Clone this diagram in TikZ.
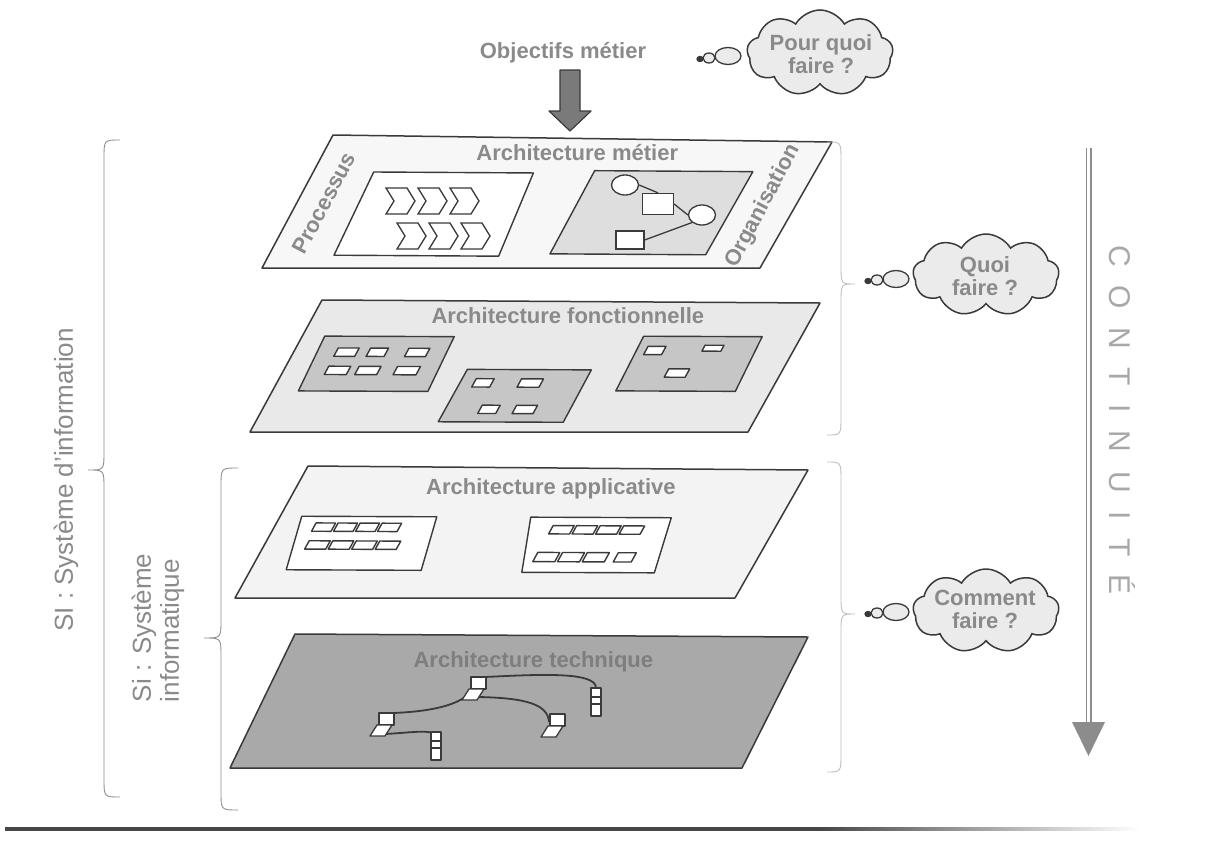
\documentclass[tikz,border=0pt]{standalone}
\usepackage{fontspec}
\setmainfont{Liberation Sans}
\usetikzlibrary{shapes.symbols,shapes.geometric}
\definecolor{ink}{HTML}{3A3A3A}
\definecolor{txt}{HTML}{8A8A8A}
\definecolor{fillA}{HTML}{F7F7F7}
\definecolor{fillAi}{HTML}{DEDEDE}
\definecolor{fillB}{HTML}{E9E9E9}
\definecolor{fillBi}{HTML}{C6C6C6}
\definecolor{fillC}{HTML}{F3F3F3}
\definecolor{fillD}{HTML}{A9A9A9}
\definecolor{txtD}{HTML}{7E7E7E}
\definecolor{cloudfill}{HTML}{EBEBEB}
\definecolor{bracec}{HTML}{8E8E8E}
\definecolor{bracelt}{HTML}{BEBEBE}
\definecolor{contc}{HTML}{8C8C8C}
\definecolor{contt}{HTML}{A8A8A8}
\newcommand\smallbox[4]{\draw[smallbox] (#1,#2) -- ++(#3,0) -- ++(0,#4) -- ++(-#3,0) -- cycle;}
\newcommand\chevshape[2]{\draw[chev] (#1,#2) -- ++(21,0) -- ++(8,13) -- ++(-8,13) -- ++(-21,0) -- ++(8,-13) -- cycle;}
\newcommand\bracepath[7]{\draw[#1] (#2,#5) .. controls (#3,#5) .. (#3,#5+18) -- (#3,#6-18) .. controls (#3,#6) .. (#4,#6) .. controls (#3,#6) .. (#3,#6+18) -- (#3,#7-18) .. controls (#3,#7) .. (#2,#7);}
\newcommand\lapdev[2]{\draw[dev] (#1,#2-12) rectangle (#1+15,#2);
  \draw[dev] (#1-2,#2) -- (#1+13,#2) -- (#1+6,#2+11) -- (#1-9,#2+11) -- cycle;}
\newcommand\towdev[2]{\draw[dev] (#1-5,#2-14) rectangle (#1+5,#2+14);
  \draw[ink, line width=1.2pt] (#1-5,#2-5) -- (#1+5,#2-5) (#1-5,#2+2) -- (#1+5,#2+2);}
\newcommand\gapk{\kern18.5pt}
\begin{document}
\begin{tikzpicture}[x=1pt,y=-1pt,
  ttl/.style={font=\fontsize{22}{24}\selectfont\bfseries, text=txt, inner sep=0pt},
  lbl/.style={font=\fontsize{26}{28}\selectfont, text=txt, inner sep=0pt},
  layer/.style={draw=ink, line width=1.5pt, line join=round},
  inbox/.style={draw=ink, line width=1.4pt, line join=round},
  smallbox/.style={draw=ink, line width=1.4pt, fill=white, line join=round},
  chev/.style={draw=ink, line width=1.3pt, fill=white, line join=miter},
  orgc/.style={ellipse, draw=ink, line width=1.3pt, fill=white, minimum width=27pt, minimum height=20pt, inner sep=0pt},
  orgs/.style={rectangle, draw=ink, line width=1.3pt, fill=white, minimum width=31pt, minimum height=21pt, inner sep=0pt},
  link/.style={draw=ink, line width=1.3pt},
  dev/.style={draw=ink, line width=1.3pt, fill=white, line join=round},
  net/.style={draw=ink, line width=1.8pt},
  cloudsty/.style={cloud, cloud puffs=9, cloud puff arc=120, cloud ignores aspect, draw=ink, fill=cloudfill, line width=1.5pt, minimum width=146pt, minimum height=86pt, inner sep=0pt},
  cloudtxt/.style={font=\fontsize{22}{23}\selectfont\bfseries, text=txt, align=center, inner sep=0pt},
  bub/.style={ellipse, draw=ink, fill=cloudfill, line width=1.3pt, inner sep=0pt},
  bracesty/.style={draw=bracec, line width=0.9pt},
  bracelite/.style={draw=bracelt, line width=0.9pt},
  cont/.style={font=\fontsize{30}{32}\selectfont, text=contt, inner sep=0pt}
]
\useasboundingbox (0,0) rectangle (1212,843);

% ---- top: objectives and arrow
\node[ttl] (obj) at (563,53) {Objectifs métier};
\draw[draw=ink, fill=black!52, line width=1.2pt, line join=round] (560,70) -- (580,70) -- (580,111) -- (591,111) -- (570,131) -- (549,111) -- (560,111) -- cycle;

% ---- cloud 1
\node[cloudsty] (cl1) at (820,53) {};
\node[cloudtxt] (cl1t) at (821,54) {Pour quoi\\faire ?};
\node[bub, minimum width=26pt, minimum height=17pt] (p2) at (728,56) {};
\node[bub, minimum width=12pt, minimum height=10pt] (p1) at (709,58) {};
\node[bub, minimum width=6pt, minimum height=5pt, fill=ink] (p0) at (700,59) {};

% ---- layer 1
\draw[layer, fill=fillA] (333,135) -- (832,142) -- (760,268) -- (262,268) -- cycle;
\begin{scope}[shift={(333,136)}, x={(499pt,-3pt)}, y={(-71pt,-132pt)}]
  \draw[inbox, fill=white] (0.12,0.27) -- (0.44,0.27) -- (0.46,0.9) -- (0.13,0.9) -- cycle;
  \draw[inbox, fill=fillAi] (0.56,0.25) -- (0.877,0.25) -- (0.872,0.88) -- (0.56,0.88) -- cycle;
  \node[ttl] (t1) at (0.506,0.116) {Architecture métier};
\end{scope}
\node[ttl, rotate=62] (proc) at (324,203) {Processus};
\node[ttl, rotate=62] (orga) at (763,206) {Organisation};
\chevshape{386}{188}\chevshape{418}{188}\chevshape{450}{188}
\chevshape{397}{223}\chevshape{429}{223}\chevshape{461}{223}
\node[orgc] (o1) at (625,185) {};
\node[orgs] (s1) at (658,204) {};
\node[orgc] (o2) at (702,215) {};
\node[orgs, minimum width=28pt, minimum height=18pt] (s2) at (630,240) {};
\draw[link] (o1.east) -- (s1.north);
\draw[link] (s1.east) -- (o2.west);
\draw[link] (o2.south west) -- (s2.east);

% ---- layer 2
\draw[layer, fill=fillB] (322,300) -- (820,303) -- (748,432) -- (250,432) -- cycle;
\begin{scope}[shift={(322,300)}, x={(498pt,-2pt)}, y={(-72pt,-132pt)}]
  \node[ttl] (t2) at (0.51,0.113) {Architecture fonctionnelle};
  \draw[inbox, fill=fillBi] (0.045,0.273) -- (0.305,0.273) -- (0.312,0.688) -- (0.052,0.688) -- cycle;
  \draw[inbox, fill=fillBi] (0.367,0.52) -- (0.616,0.52) -- (0.617,0.917) -- (0.366,0.917) -- cycle;
  \draw[inbox, fill=fillBi] (0.684,0.264) -- (0.922,0.264) -- (0.928,0.678) -- (0.688,0.678) -- cycle;
  \smallbox{0.085}{0.362}{0.042}{0.063}\smallbox{0.150}{0.362}{0.036}{0.063}\smallbox{0.227}{0.362}{0.042}{0.063}
  \smallbox{0.086}{0.5}{0.044}{0.063}\smallbox{0.147}{0.5}{0.044}{0.063}\smallbox{0.224}{0.5}{0.046}{0.063}
  \smallbox{0.395}{0.59}{0.036}{0.063}\smallbox{0.486}{0.59}{0.044}{0.063}
  \smallbox{0.436}{0.79}{0.036}{0.063}\smallbox{0.505}{0.79}{0.042}{0.063}
  \smallbox{0.704}{0.34}{0.036}{0.063}\smallbox{0.817}{0.33}{0.038}{0.045}\smallbox{0.77}{0.51}{0.042}{0.063}
\end{scope}

% ---- layer 3
\draw[layer, fill=fillC] (308,466) -- (808,470) -- (735,598) -- (235,598) -- cycle;
\begin{scope}[shift={(308,466)}, x={(500pt,-2pt)}, y={(-73pt,-132pt)}]
  \node[ttl] (t3) at (0.51,0.165) {Architecture applicative};
  \draw[inbox, fill=white] (0.043,0.38) -- (0.313,0.38) -- (0.341,0.785) -- (0.071,0.785) -- cycle;
  \draw[inbox, fill=white] (0.501,0.38) -- (0.782,0.38) -- (0.809,0.797) -- (0.544,0.797) -- cycle;
  \foreach \k in {0,1,2,3} {
    \smallbox{0.079+0.044*\k}{0.43}{0.039}{0.063}
    \smallbox{0.085+0.047*\k}{0.565}{0.042}{0.063}
    \smallbox{0.555+0.047*\k}{0.443}{0.042}{0.063}
  }
  \foreach \k in {0,1,2} {\smallbox{0.554+0.0495*\k}{0.646}{0.044}{0.07}}
  \smallbox{0.715}{0.646}{0.036}{0.07}
\end{scope}

% ---- layer 4
\draw[layer, fill=fillD] (295,634) -- (808,637) -- (742,768) -- (230,768) -- cycle;
\begin{scope}[shift={(295,634)}, x={(513pt,-2pt)}, y={(-65pt,-134pt)}]
  \node[ttl, text=txtD] (t4) at (0.49,0.2) {Architecture technique};
\end{scope}
\coordinate (A-t) at (485,677);
\coordinate (A-l) at (465,697);
\coordinate (A-r) at (479,697);
\coordinate (B-t) at (596,688);
\coordinate (C-t) at (393,713);
\coordinate (C-r) at (385,734);
\coordinate (D-t) at (432,733);
\coordinate (E-l) at (549,722);
\draw[net] (A-t) .. controls (545,674) and (596,672) .. (B-t);
\draw[net] (A-l) .. controls (450,708) and (420,712) .. (C-t);
\draw[net] (A-r) .. controls (525,698) and (548,704) .. (E-l);
\draw[net] (C-r) .. controls (405,733) and (426,730) .. (D-t);
\lapdev{471}{689}
\lapdev{379}{725}
\lapdev{550}{726}
\towdev{596}{702}
\towdev{436}{746}

% ---- left braces and labels
\bracepath{bracesty}{120}{104}{88}{140}{470}{797}
\bracepath{bracesty}{238}{221}{204}{468}{638}{810}
\node[lbl, rotate=90] (si1) at (66,480) {SI : Système d’information};
\node[lbl, rotate=90, align=left] (si2) at (158,628) {Si : Système\\informatique};

% ---- right braces and clouds
\bracepath{bracelite}{827}{841}{855}{142}{284}{435}
\bracepath{bracelite}{827}{841}{855}{462}{614}{772}
\node[cloudsty, minimum height=82pt] (cl2) at (986,275) {};
\node[cloudtxt] (cl2t) at (985,276) {Quoi\\faire ?};
\node[bub, minimum width=26pt, minimum height=17pt] (q2) at (896,279) {};
\node[bub, minimum width=12pt, minimum height=10pt] (q1) at (877,280) {};
\node[bub, minimum width=6pt, minimum height=5pt, fill=ink] (q0) at (868,281) {};
\node[cloudsty, minimum height=84pt] (cl3) at (986,611) {};
\node[cloudtxt] (cl3t) at (985,609) {Comment\\faire ?};
\node[bub, minimum width=26pt, minimum height=17pt] (r2) at (896,612) {};
\node[bub, minimum width=12pt, minimum height=10pt] (r1) at (877,613) {};
\node[bub, minimum width=6pt, minimum height=5pt, fill=ink] (r0) at (868,614) {};

% ---- continuity arrow
\coordinate (ca) at (1088.5,148);
\coordinate (cb) at (1088.5,724);
\draw[draw=contc, line width=1.4pt, double=white, double distance=3.2pt] (ca) -- (cb);
\fill[contc] (1072,722) -- (1105,722) -- (1088.5,756) -- cycle;
\node[cont, rotate=-90] (ctx) at (1122,420) {C\gapk O\gapk N\gapk T\gapk I\gapk N\gapk U\gapk I\gapk T\gapk É};

% ---- bottom rule
\fill[black!72] (5,827) rectangle (820,830.5);
\shade[left color=black!72, right color=white] (820,827) rectangle (1140,830.5);
\end{tikzpicture}
\end{document}
